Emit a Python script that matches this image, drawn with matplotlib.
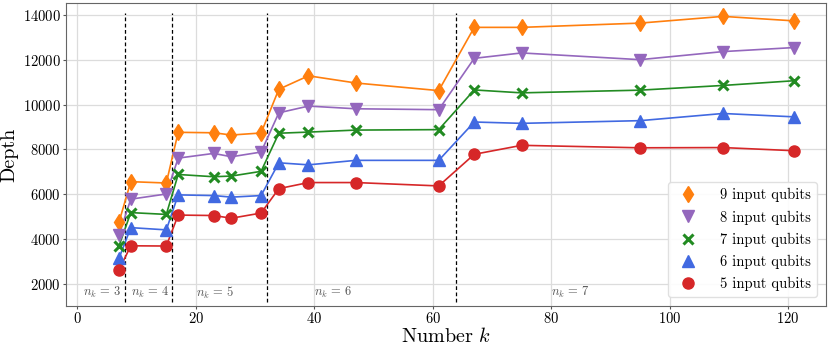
import matplotlib

matplotlib.use("Agg")
import matplotlib.pyplot as plt

# k values sampled on the x axis
k_values = [7, 9, 15, 17, 23, 26, 31, 34, 39, 47, 61, 67, 75, 95, 109, 121]

# circuit depth per number of input qubits
depth_9 = [4750, 6560, 6500, 8760, 8740, 8640, 8730, 10680, 11280, 10960, 10620, 13440, 13440, 13630, 13930, 13730]
depth_8 = [4180, 5780, 6010, 7610, 7820, 7670, 7880, 9630, 9930, 9810, 9770, 12060, 12300, 12000, 12360, 12540]
depth_7 = [3690, 5180, 5100, 6880, 6780, 6810, 7020, 8720, 8770, 8860, 8880, 10650, 10520, 10640, 10850, 11060]
depth_6 = [3140, 4510, 4410, 5970, 5940, 5870, 5940, 7400, 7310, 7510, 7510, 9220, 9160, 9280, 9600, 9450]
depth_5 = [2620, 3700, 3690, 5070, 5050, 4930, 5160, 6250, 6520, 6520, 6370, 7780, 8180, 8070, 8080, 7940]

# boundaries between n_k groups and their labels
boundaries = [8, 16, 32, 64]
nk_labels = [r"$n_k\,=\,3$", r"$n_k\,=\,4$", r"$n_k\,=\,5$", r"$n_k\,=\,6$", r"$n_k\,=\,7$"]
nk_label_x = [1, 9, 20, 40, 80]

series = [
    ("9 input qubits", depth_9, "#ff7f0e", "d"),
    ("8 input qubits", depth_8, "#9467bd", "v"),
    ("7 input qubits", depth_7, "#228b22", "x"),
    ("6 input qubits", depth_6, "#4169e1", "^"),
    ("5 input qubits", depth_5, "#d62728", "o"),
]

plt.rcParams["font.family"] = "serif"
plt.rcParams["font.serif"] = ["cmr10"]
plt.rcParams["mathtext.fontset"] = "cm"
plt.rcParams["axes.formatter.use_mathtext"] = True

fig = plt.figure(figsize=(8.31, 3.5), dpi=100)
ax = fig.add_axes([0.079, 0.126, 0.915, 0.865])

for label, depth, color, marker in series:
    ax.plot(k_values, depth, color=color, linewidth=1.2, zorder=3)
    ax.plot(
        k_values,
        depth,
        linestyle="none",
        marker=marker,
        markersize=8 if marker != "x" else 7,
        markeredgewidth=2.2 if marker == "x" else 1,
        color=color,
        label=label,
        zorder=4,
    )

ax.vlines(boundaries, 1200, 14100, colors="black", linestyles=(0, (3, 2)), linewidth=0.9, zorder=2)
for x, txt in zip(nk_label_x, nk_labels):
    ax.text(x, 1600, txt, fontsize=9, color="#555555", ha="left", va="center")

ax.set_xlim(-2, 126.4)
ax.set_ylim(1020, 14520)
ax.set_xticks([0, 20, 40, 60, 80, 100, 120])
ax.set_yticks([2000, 4000, 6000, 8000, 10000, 12000, 14000])
ax.tick_params(labelsize=10.5, color="#555555", length=2, pad=1.5)
ax.grid(True, color="#dcdcdc", linewidth=0.9, zorder=0)
ax.set_axisbelow(True)
for spine in ax.spines.values():
    spine.set_color("#666666")

ax.set_xlabel(r"Number $k$", fontsize=14.5, labelpad=1)
ax.set_ylabel("Depth", fontsize=14.5, labelpad=3)

ax.legend(
    loc="lower right",
    fontsize=10.5,
    handletextpad=1.2,
    labelspacing=0.55,
    borderaxespad=0.6,
    framealpha=0.9,
    edgecolor="#dddddd",
)

fig.savefig("out.png", dpi=100)
